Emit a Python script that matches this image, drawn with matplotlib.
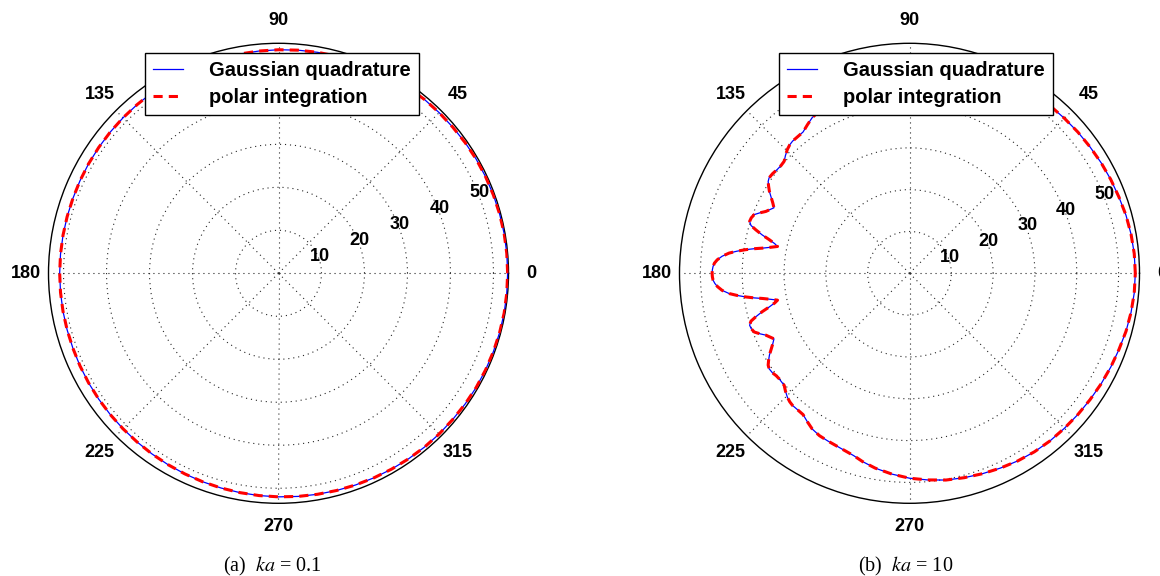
import numpy as np
import matplotlib
matplotlib.use('Agg')
import matplotlib.pyplot as plt

plt.rcParams['font.family'] = ['Liberation Sans', 'DejaVu Sans']
plt.rcParams['mathtext.fontset'] = 'stix'

# ---------------- data ----------------
theta_a_deg = [0, 5, 10, 15, 20, 25, 30, 35, 40, 45, 50, 55, 60, 65, 70, 75, 80, 85, 90,
               95, 100, 105, 110, 115, 120, 125, 130, 135, 140, 145, 150, 155, 160, 165, 170, 175, 180,
               185, 190, 195, 200, 205, 210, 215, 220, 225, 230, 235, 240, 245, 250, 255, 260, 265, 270,
               275, 280, 285, 290, 295, 300, 305, 310, 315, 320, 325, 330, 335, 340, 345, 350, 355, 360]
r_gauss_a = [53.3, 53.3, 53.3, 53.25, 53.2, 53.15, 53.1, 53.0, 52.9, 52.85, 52.8, 52.7, 52.6, 52.5, 52.4, 52.3, 52.2, 52.1, 52.0,
             51.9, 51.8, 51.7, 51.6, 51.5, 51.4, 51.3, 51.2, 51.15, 51.1, 51.05, 51.0, 50.95, 50.9, 50.9, 50.9, 50.9, 50.9,
             50.9, 50.9, 50.9, 50.9, 50.95, 51.0, 51.05, 51.1, 51.15, 51.2, 51.3, 51.4, 51.5, 51.6, 51.7, 51.8, 51.9, 52.0,
             52.1, 52.2, 52.3, 52.4, 52.5, 52.6, 52.7, 52.8, 52.85, 52.9, 53.0, 53.1, 53.15, 53.2, 53.25, 53.3, 53.3, 53.3]
r_polar_a = [53.3, 53.3, 53.3, 53.25, 53.2, 53.15, 53.1, 53.0, 52.9, 52.85, 52.8, 52.7, 52.6, 52.5, 52.4, 52.3, 52.2, 52.1, 52.0,
             51.9, 51.8, 51.7, 51.6, 51.5, 51.4, 51.3, 51.2, 51.15, 51.1, 51.05, 51.0, 50.95, 50.9, 50.9, 50.9, 50.9, 50.9,
             50.9, 50.9, 50.9, 50.9, 50.95, 51.0, 51.05, 51.1, 51.15, 51.2, 51.3, 51.4, 51.5, 51.6, 51.7, 51.8, 51.9, 52.0,
             52.1, 52.2, 52.3, 52.4, 52.5, 52.6, 52.7, 52.8, 52.85, 52.9, 53.0, 53.1, 53.15, 53.2, 53.25, 53.3, 53.3, 53.3]

theta_b_deg = [0, 5, 10, 15, 20, 25, 30, 35, 40, 45, 50, 55, 60, 65, 70, 75, 80, 85, 90, 95, 100, 104, 107,
               110, 113, 116, 119, 122, 124.5, 127, 129.5, 131.5, 133, 134.6, 136.5, 138.2, 140, 141.8, 144,
               145.8, 147, 148.3, 149.7, 151, 152.7, 154.2, 155.3, 156.7, 158, 159.3, 160.7, 162, 163.2, 164.2,
               165.4, 166.5, 167.6, 168.5, 169.4, 170.3, 171.0, 171.8, 172.7, 173.6, 174.8, 176, 177, 178, 179, 180,
               181, 182, 183, 184, 185.2, 186.4, 187.3, 188.2, 189, 189.7, 190.6, 191.5, 192.4, 193.5, 194.6,
               195.8, 196.8, 198.0, 199.3, 200.7, 202, 203.3, 204.7, 205.8, 207.3, 209, 210.3, 211.7, 213, 214.2,
               216, 217.5, 219, 221.8, 223.5, 225.4, 227, 228.5, 230.5, 233, 235.5, 238, 241, 244, 247, 250, 253,
               256, 260, 265, 270, 275, 280, 285, 290, 295, 300, 305, 310, 315, 320, 325, 330, 335, 340, 345,
               350, 355, 360]
r_gauss_b = [54.0, 53.95, 53.8, 53.6, 53.3, 53.1, 52.9, 52.7, 52.55, 52.4, 52.3, 52.1, 51.8, 51.4, 51.0, 50.6, 50.2, 49.6, 49.0, 48.2, 47.3, 46.4, 45.6,
             45.1, 44.8, 44.6, 44.4, 43.9, 43.1, 42.3, 42.2, 42.2, 42.0, 41.6, 40.9, 40.2, 40.1, 40.2, 40.5,
             40.6, 40.3, 39.6, 38.8, 37.9, 36.8, 36.0, 36.6, 37.4, 38.6, 39.7, 40.1, 40.2, 39.6, 38.2,
             36.4, 34.5, 33.0, 32.2, 33.8, 35.7, 37.6, 39.6, 41.6, 43.4, 45.0, 46.1, 46.7, 47.0, 47.15, 47.2,
             47.15, 47.0, 46.6, 46.0, 45.0, 43.4, 41.6, 39.6, 37.6, 35.7, 33.8, 32.2, 33.0, 34.5, 36.4,
             38.2, 39.6, 40.2, 40.1, 39.7, 38.6, 37.4, 36.6, 36.0, 36.8, 37.9, 38.8, 39.6, 40.3, 40.6,
             40.5, 40.2, 40.1, 40.2, 40.9, 41.6, 42.0, 42.2, 42.2, 42.3, 43.1, 43.9, 44.4, 44.6, 44.8, 45.1, 45.6,
             46.4, 47.3, 48.2, 49.0, 49.6, 50.2, 50.6, 51.0, 51.4, 51.8, 52.1, 52.3, 52.4, 52.55, 52.7, 52.9, 53.1, 53.3, 53.6,
             53.8, 53.95, 54.0]
r_polar_b = [54.0, 53.95, 53.8, 53.6, 53.3, 53.1, 52.9, 52.7, 52.55, 52.4, 52.3, 52.1, 51.8, 51.4, 51.0, 50.6, 50.2, 49.6, 49.0, 48.2, 47.3, 46.4, 45.6,
             45.1, 44.8, 44.6, 44.4, 43.9, 43.1, 42.3, 42.2, 42.2, 42.0, 41.6, 40.9, 40.2, 40.1, 40.2, 40.5,
             40.6, 40.3, 39.6, 38.8, 37.9, 36.8, 36.0, 36.6, 37.4, 38.6, 39.7, 40.1, 40.2, 39.6, 38.2,
             36.4, 34.5, 33.0, 32.2, 33.8, 35.7, 37.6, 39.6, 41.6, 43.4, 45.0, 46.1, 46.7, 47.0, 47.15, 47.2,
             47.15, 47.0, 46.6, 46.0, 45.0, 43.4, 41.6, 39.6, 37.6, 35.7, 33.8, 32.2, 33.0, 34.5, 36.4,
             38.2, 39.6, 40.2, 40.1, 39.7, 38.6, 37.4, 36.6, 36.0, 36.8, 37.9, 38.8, 39.6, 40.3, 40.6,
             40.5, 40.2, 40.1, 40.2, 40.9, 41.6, 42.0, 42.2, 42.2, 42.3, 43.1, 43.9, 44.4, 44.6, 44.8, 45.1, 45.6,
             46.4, 47.3, 48.2, 49.0, 49.6, 50.2, 50.6, 51.0, 51.4, 51.8, 52.1, 52.3, 52.4, 52.55, 52.7, 52.9, 53.1, 53.3, 53.6,
             53.8, 53.95, 54.0]

angle_ticks = [0, 45, 90, 135, 180, 225, 270, 315]
angle_labels = ['0', '45', '90', '135', '180', '225', '270', '315']
radial_ticks = [10, 20, 30, 40, 50]
radial_labels = ['10', '20', '30', '40', '50']
series_names = ['Gaussian quadrature', 'polar integration']
captions = ['(a)  $ka$ = 0.1', '(b)  $ka$ = 10']
rmax_list = [53.5, 55.0]

# ---------------- figure ----------------
W, H = 1160, 576
fig = plt.figure(figsize=(W / 100, H / 100), dpi=100)

R_px = 230.0
centers = [(278.5, 273.3), (909.5, 273.3)]
legend_tl = [(145, 52.5), (779, 52.5)]
caption_pos = [(272.5, 566.5), (905.5, 566.5)]

datasets = [
    (theta_a_deg, r_gauss_a, r_polar_a),
    (theta_b_deg, r_gauss_b, r_polar_b),
]

for i, (th_deg, rg, rp) in enumerate(datasets):
    cx, cy = centers[i]
    rect = [(cx - R_px) / W, (H - cy - R_px) / H, 2 * R_px / W, 2 * R_px / H]
    ax = fig.add_axes(rect, projection='polar')
    rmax = rmax_list[i]
    th = np.deg2rad(th_deg)
    l1, = ax.plot(th, rg, color='blue', lw=0.9, zorder=3)
    l2, = ax.plot(th, rp, color='red', lw=2.2, ls=(0, (3.0, 2.0)), zorder=4)
    ax.set_ylim(0, rmax)
    ax.set_thetagrids(angle_ticks, labels=[''] * len(angle_ticks))
    ax.set_rticks(radial_ticks)
    ax.set_yticklabels([])
    ax.tick_params(length=0)
    ax.grid(True, ls=(0, (1, 3.5)), color='0.15', lw=0.8)
    ax.spines['polar'].set_linewidth(1.0)
    ax.spines['polar'].set_color('black')
    for a, lab in zip(angle_ticks, angle_labels):
        ax.text(np.deg2rad(a), 1.1 * rmax, lab, ha='center', va='center',
                fontsize=13, fontweight='bold', clip_on=False)
    for rt, lab in zip(radial_ticks, radial_labels):
        ax.text(np.deg2rad(22), rt + 0.4, lab, ha='center', va='center',
                fontsize=13, fontweight='bold', zorder=5)
    lx, ly = legend_tl[i]
    leg = ax.legend([l1, l2], series_names, loc='upper left',
                    bbox_to_anchor=(lx / W, 1 - ly / H), bbox_transform=fig.transFigure,
                    borderaxespad=0, frameon=True, fancybox=False, shadow=False,
                    edgecolor='black', framealpha=1, facecolor='white',
                    prop={'weight': 'bold', 'size': 14.5},
                    handlelength=1.5, handletextpad=1.3, borderpad=0.4, labelspacing=0.42)
    leg.get_frame().set_linewidth(1.0)
    leg.set_zorder(10)
    px, py = caption_pos[i]
    fig.text(px / W, 1 - py / H, captions[i], ha='center', va='center',
             fontsize=14.5, family=['Liberation Serif', 'DejaVu Serif'])

fig.savefig('out.png', dpi=100, facecolor='white')
